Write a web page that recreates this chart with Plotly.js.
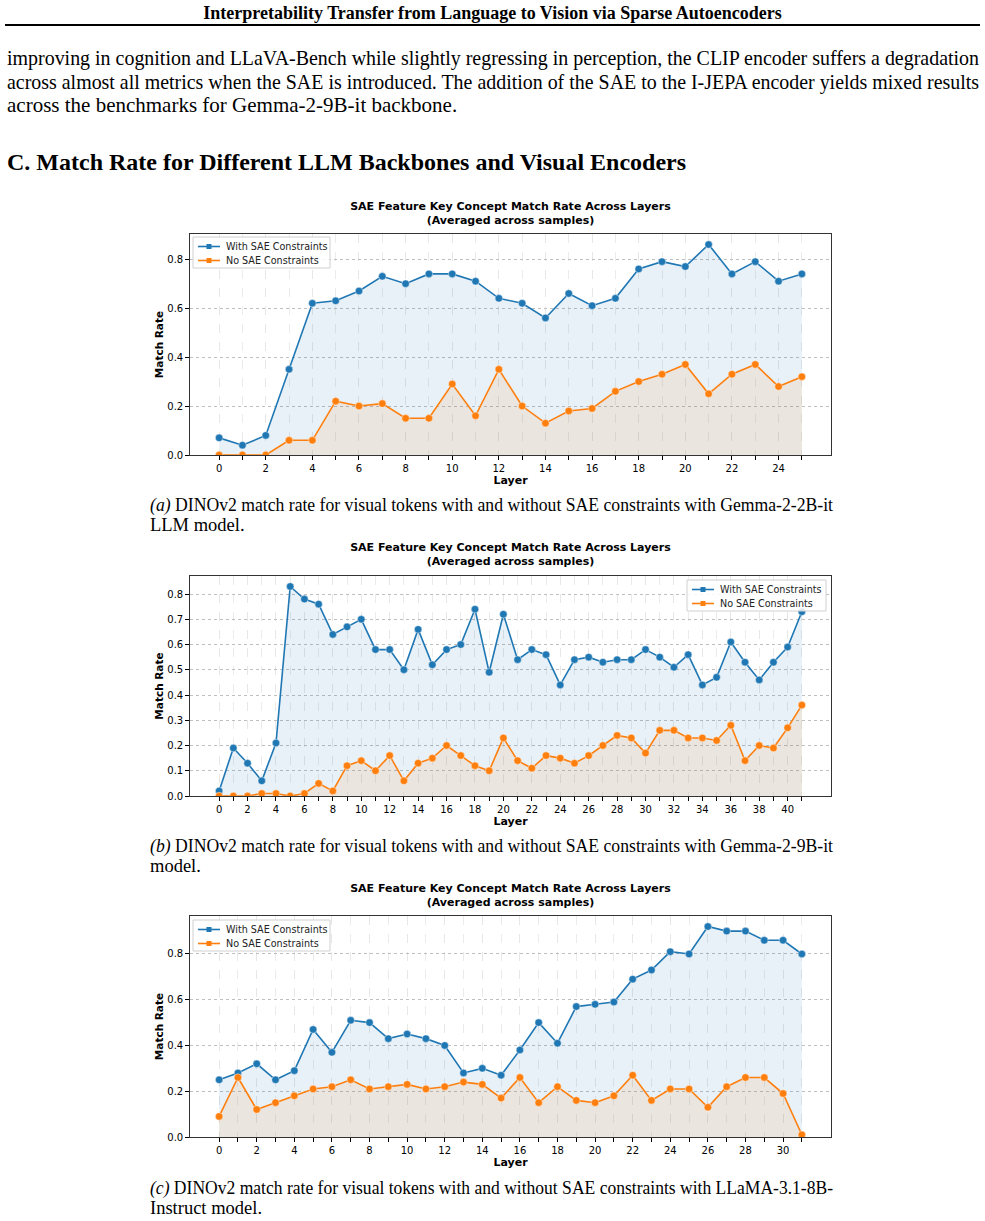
<!DOCTYPE html>
<html><head><meta charset="utf-8">
<script src="https://cdn.plot.ly/plotly-3.0.1.min.js"></script>
<style>
body{margin:0;width:985px;height:1221px;position:relative;background:#fff;font-family:"Liberation Serif","Times New Roman",serif;color:#000;overflow:hidden}
.abs{position:absolute}
.line{white-space:nowrap}
.fit{white-space:nowrap;display:inline-block;transform-origin:0 50%}
.chart{position:absolute;left:0;width:985px}
</style></head><body>
<div class="abs" style="left:0;width:985px;top:2px;line-height:22px;font-size:18px;font-weight:bold;text-align:center">Interpretability Transfer from Language to Vision via Sparse Autoencoders</div>
<div class="abs" style="left:5px;width:975px;top:24px;height:2px;background:#000"></div>
<div class="abs" style="left:7px;width:972px;top:47px;font-size:21px;line-height:23.5px">
<div class="line"><span class="fit" data-w="972">improving in cognition and LLaVA-Bench while slightly regressing in perception, the CLIP encoder suffers a degradation</span></div>
<div class="line"><span class="fit" data-w="972">across almost all metrics when the SAE is introduced. The addition of the SAE to the I-JEPA encoder yields mixed results</span></div>
<div class="line">across the benchmarks for Gemma-2-9B-it backbone.</div>
</div>
<div class="abs" style="left:7px;top:147px;font-size:24px;line-height:30px;font-weight:bold;white-space:nowrap">C. Match Rate for Different LLM Backbones and Visual Encoders</div>

<div id="ca" class="chart" style="top:185px;height:310px"></div>
<div id="cb" class="chart" style="top:530px;height:300px"></div>
<div id="cc" class="chart" style="top:870px;height:305px"></div>

<div class="abs" style="left:150px;width:684px;top:495px;font-size:18.5px;line-height:20px">
<div class="line"><span class="fit" data-w="683"><i>(a)</i> DINOv2 match rate for visual tokens with and without SAE constraints with Gemma-2-2B-it</span></div>
<div class="line">LLM model.</div>
</div>
<div class="abs" style="left:150px;width:684px;top:836px;font-size:18.5px;line-height:20px">
<div class="line"><span class="fit" data-w="683"><i>(b)</i> DINOv2 match rate for visual tokens with and without SAE constraints with Gemma-2-9B-it</span></div>
<div class="line">model.</div>
</div>
<div class="abs" style="left:150px;width:684px;top:1179px;font-size:18.5px;line-height:19.5px">
<div class="line"><span class="fit" data-w="683"><i>(c)</i> DINOv2 match rate for visual tokens with and without SAE constraints with LLaMA-3.1-8B-</span></div>
<div class="line">Instruct model.</div>
</div>

<script>
// fit single justified text lines to a target width (slight horizontal scaling, as in the typeset page)
function fitLines() {
  document.querySelectorAll(".fit").forEach(el => {
    el.style.transform = "none";
    const target = parseFloat(el.dataset.w);
    const natural = el.getBoundingClientRect().width;
    if (natural > 0) el.style.transform = "scaleX(" + (target / natural) + ")";
  });
}
fitLines();
if (document.fonts && document.fonts.ready) document.fonts.ready.then(fitLines);

const chartTitle = "SAE Feature Key Concept Match Rate Across Layers<br>(Averaged across samples)";
const seriesNames = ["With SAE Constraints", "No SAE Constraints"];
const xLabel = "Layer";
const yLabel = "Match Rate";

// (a) Gemma-2-2B-it
const layersA = [0,1,2,3,4,5,6,7,8,9,10,11,12,13,14,15,16,17,18,19,20,21,22,23,24,25];
const withSaeA = [0.07,0.04,0.08,0.35,0.62,0.63,0.67,0.73,0.70,0.74,0.74,0.71,0.64,0.62,0.56,0.66,0.61,0.64,0.76,0.79,0.77,0.86,0.74,0.79,0.71,0.74];
const noSaeA = [0.00,0.00,0.00,0.06,0.06,0.22,0.20,0.21,0.15,0.15,0.29,0.16,0.35,0.20,0.13,0.18,0.19,0.26,0.30,0.33,0.37,0.25,0.33,0.37,0.28,0.32];

// (b) Gemma-2-9B-it
const layersB = [0,1,2,3,4,5,6,7,8,9,10,11,12,13,14,15,16,17,18,19,20,21,22,23,24,25,26,27,28,29,30,31,32,33,34,35,36,37,38,39,40,41];
const withSaeB = [0.02,0.19,0.13,0.06,0.21,0.83,0.78,0.76,0.64,0.67,0.70,0.58,0.58,0.50,0.66,0.52,0.58,0.60,0.74,0.49,0.72,0.54,0.58,0.56,0.44,0.54,0.55,0.53,0.54,0.54,0.58,0.55,0.51,0.56,0.44,0.47,0.61,0.53,0.46,0.53,0.59,0.73];
const noSaeB = [0.00,0.00,0.00,0.01,0.01,0.00,0.01,0.05,0.02,0.12,0.14,0.10,0.16,0.06,0.13,0.15,0.20,0.16,0.12,0.10,0.23,0.14,0.11,0.16,0.15,0.13,0.16,0.20,0.24,0.23,0.17,0.26,0.26,0.23,0.23,0.22,0.28,0.14,0.20,0.19,0.27,0.36];

// (c) LLaMA-3.1-8B-Instruct
const layersC = [0,1,2,3,4,5,6,7,8,9,10,11,12,13,14,15,16,17,18,19,20,21,22,23,24,25,26,27,28,29,30,31];
const withSaeC = [0.25,0.28,0.32,0.25,0.29,0.47,0.37,0.51,0.50,0.43,0.45,0.43,0.40,0.28,0.30,0.27,0.38,0.50,0.41,0.57,0.58,0.59,0.69,0.73,0.81,0.80,0.92,0.90,0.90,0.86,0.86,0.80];
const noSaeC = [0.09,0.26,0.12,0.15,0.18,0.21,0.22,0.25,0.21,0.22,0.23,0.21,0.22,0.24,0.23,0.17,0.26,0.15,0.22,0.16,0.15,0.18,0.27,0.16,0.21,0.21,0.13,0.22,0.26,0.26,0.19,0.01];

const BLUE = "#1f77b4", ORANGE = "#ff7f0e";
const sans = "DejaVu Sans, Verdana, sans-serif";
const ML = 190, MR = 154, W = 985;

// legend box drawn in plot-area pixel offsets (converted to paper fractions)
function legendParts(ox, oy, w, pw, ph) {
  const X = px => px / pw, Y = py => 1 - py / ph;
  const shapes = [{type: "rect", xref: "paper", yref: "paper", x0: X(ox), x1: X(ox + w), y0: Y(oy + 31), y1: Y(oy),
                   fillcolor: "rgba(255,255,255,0.85)", line: {color: "#d0d0d0", width: 1}}];
  const ann = [];
  [BLUE, ORANGE].forEach((c, i) => {
    const cy = oy + 9.5 + 14 * i;
    shapes.push({type: "line", xref: "paper", yref: "paper", x0: X(ox + 5), x1: X(ox + 27), y0: Y(cy), y1: Y(cy),
                 line: {color: c, width: 1.6}});
    shapes.push({type: "rect", xref: "paper", yref: "paper", x0: X(ox + 13.5), x1: X(ox + 18.5), y0: Y(cy + 2.5), y1: Y(cy - 2.5),
                 fillcolor: c, line: {width: 0}});
    ann.push({xref: "paper", yref: "paper", x: X(ox + 31), y: Y(cy), xanchor: "left", yanchor: "middle",
              text: seriesNames[i], showarrow: false, font: {family: sans, size: 9.6, color: "#222"}});
  });
  return {shapes, ann};
}

function makeChart(id, layers, withV, noV, ydtick, cfg) {
  const n = layers[layers.length - 1];
  const yMax = Math.max(...withV, ...noV) * 1.05;
  const pw = W - ML - MR, ph = cfg.h - cfg.t - cfg.b;
  const mk = (y, c, fill, name) => ({
    x: layers, y: y, type: "scatter", mode: "lines+markers", name: name,
    line: {color: c, width: 1.6},
    marker: {color: c, size: 7.5, symbol: "circle", line: {color: "rgba(255,255,255,0.55)", width: 0.8}},
    fill: "tozeroy", fillcolor: fill, showlegend: false, hoverinfo: "skip"
  });
  const data = [
    mk(withV, BLUE, "rgba(31,119,180,0.1)", seriesNames[0]),
    mk(noV, ORANGE, "rgba(255,127,14,0.1)", seriesNames[1])
  ];
  const lg = legendParts(cfg.lx, cfg.ly, cfg.lw, pw, ph);
  const layout = {
    width: W, height: cfg.h,
    margin: {l: ML, r: MR, t: cfg.t, b: cfg.b, pad: 0},
    paper_bgcolor: "rgba(0,0,0,0)", plot_bgcolor: "#fff",
    font: {family: sans, size: 10, color: "#000"},
    title: {text: chartTitle, x: (ML + pw / 2) / W, xanchor: "center", y: cfg.ty, yref: "container", yanchor: "middle",
            font: {family: sans, size: 11, weight: "bold", color: "#000"}},
    showlegend: false,
    shapes: lg.shapes, annotations: lg.ann,
    xaxis: {
      range: [-0.05 * n, n * 1.05],
      tickmode: "array", tickvals: layers.filter(v => v % 2 === 0),
      ticks: "outside", ticklen: 3.5, tickwidth: 1, tickcolor: "#000",
      showgrid: true, gridcolor: "#e6e6e6", griddash: "dash", gridwidth: 0.8,
      minor: {tickmode: "array", tickvals: layers, ticks: "outside", ticklen: 3.5, tickwidth: 1, tickcolor: "#000",
              showgrid: true, gridcolor: "#e6e6e6", griddash: "dash", gridwidth: 0.8},
      zeroline: false, showline: true, mirror: true, linecolor: "#333", linewidth: 1.3,
      tickfont: {family: sans, size: 10, color: "#000"},
      title: {text: xLabel, standoff: 0, font: {family: sans, size: 11, weight: "bold", color: "#000"}}
    },
    yaxis: {
      range: [0, yMax], dtick: ydtick, tick0: 0, tickformat: ".1f",
      ticks: "outside", ticklen: 3.5, tickwidth: 1, tickcolor: "#000",
      showgrid: true, gridcolor: "#b8b8b8", griddash: "dot", gridwidth: 0.9,
      zeroline: false, showline: true, mirror: true, linecolor: "#333", linewidth: 1.3,
      tickfont: {family: sans, size: 10, color: "#000"},
      title: {text: yLabel, standoff: 1, font: {family: sans, size: 10.5, weight: "bold", color: "#000"}}
    }
  };
  Plotly.newPlot(id, data, layout, {staticPlot: true, displayModeBar: false});
}

makeChart("ca", layersA, withSaeA, noSaeA, 0.2,
  {h: 310, t: 49, b: 40, ty: 1 - 25 / 310, lx: 3, ly: 3, lw: 137});
makeChart("cb", layersB, withSaeB, noSaeB, 0.1,
  {h: 300, t: 46, b: 34, ty: 1 - 21 / 300, lx: 497, ly: 4, lw: 139});
makeChart("cc", layersC, withSaeC, noSaeC, 0.2,
  {h: 305, t: 46, b: 38, ty: 1 - 22 / 305, lx: 3, ly: 4, lw: 137});
</script>
</body></html>
